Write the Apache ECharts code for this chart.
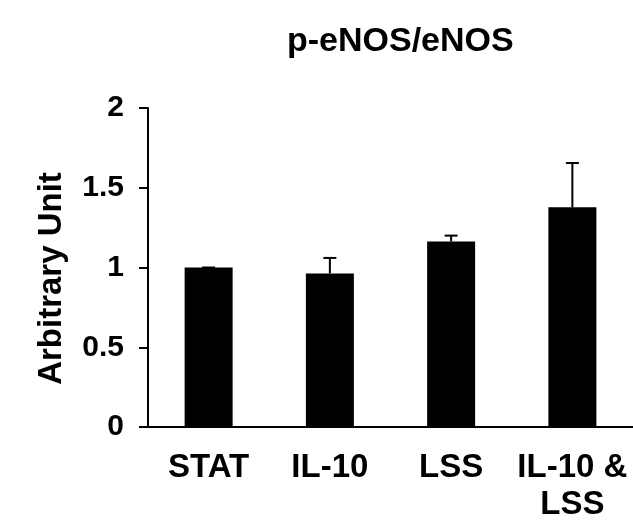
<!DOCTYPE html>
<html>
<head>
<meta charset="utf-8">
<script src="https://cdn.jsdelivr.net/npm/echarts@6/dist/echarts.min.js"></script>
<style>
html,body{margin:0;padding:0;background:#fff;}
#chart{width:633px;height:523px;}
</style>
</head>
<body>
<div id="chart"></div>
<script>
// 数据
let categories = ['STAT', 'IL-10', 'LSS', 'IL-10 &\nLSS'];
let values = [1.0, 0.963, 1.163, 1.377];
let errors = [0.0, 0.097, 0.037, 0.278];
let yTicks = [0, 0.5, 1, 1.5, 2];

let font = 'Arial, "Liberation Sans", sans-serif';

let myChart = echarts.init(document.getElementById('chart'));

let errData = [];
for (let i = 0; i < values.length; i++) {
    errData.push([i, values[i], values[i] + errors[i]]);
}

myChart.setOption({
    animation: false,
    title: {
        text: 'p-eNOS/eNOS',
        left: 282,
        top: 20,
        textStyle: {
            color: '#000',
            fontFamily: font,
            fontWeight: 'bold',
            fontSize: 34
        }
    },
    grid: {
        left: 148,
        right: -9,
        top: 108,
        bottom: 96
    },
    xAxis: {
        type: 'category',
        data: categories,
        axisLine: {
            lineStyle: { color: '#000', width: 2 }
        },
        axisTick: { show: false },
        axisLabel: {
            color: '#000',
            fontFamily: font,
            fontWeight: 'bold',
            fontSize: 33,
            lineHeight: 37,
            margin: 22,
            interval: 0
        }
    },
    yAxis: {
        type: 'value',
        min: yTicks[0],
        max: yTicks[yTicks.length - 1],
        interval: 0.5,
        name: 'Arbitrary Unit',
        nameLocation: 'middle',
        nameGap: 80,
        nameTextStyle: {
            color: '#000',
            fontFamily: font,
            fontWeight: 'bold',
            fontSize: 33,
            padding: [0, 22, 0, 0]
        },
        axisLine: {
            show: true,
            lineStyle: { color: '#000', width: 2 }
        },
        axisTick: {
            show: true,
            length: 9,
            lineStyle: { color: '#000', width: 2 }
        },
        axisLabel: {
            color: '#000',
            fontFamily: font,
            fontWeight: 'bold',
            fontSize: 30,
            margin: 24
        },
        splitLine: { show: false }
    },
    series: [
        {
            type: 'bar',
            data: values,
            barWidth: 48,
            itemStyle: { color: '#000' },
            z: 2
        },
        {
            type: 'custom',
            data: errData,
            z: 3,
            renderItem: function (params, api) {
                let x = api.value(0);
                let lo = api.coord([x, api.value(1)]);
                let hi = api.coord([x, api.value(2)]);
                let half = 6.5;
                let style = { stroke: '#000', lineWidth: 2 };
                return {
                    type: 'group',
                    children: [
                        { type: 'line', shape: { x1: hi[0], y1: lo[1], x2: hi[0], y2: hi[1] }, style: style },
                        { type: 'line', shape: { x1: hi[0] - half, y1: hi[1], x2: hi[0] + half, y2: hi[1] }, style: style }
                    ]
                };
            }
        }
    ]
});
</script>
</body>
</html>
